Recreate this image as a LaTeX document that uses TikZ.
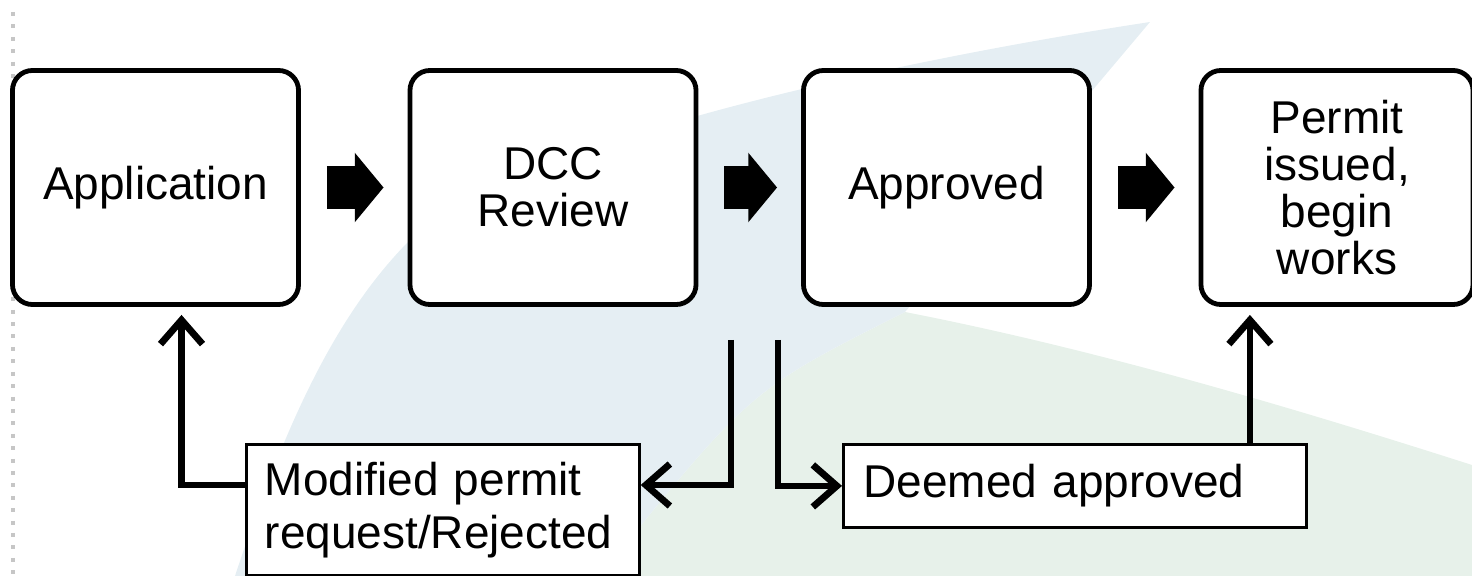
\documentclass[tikz,border=0pt]{standalone}
\usepackage{fontspec}
\setmainfont{Liberation Sans}
\usetikzlibrary{arrows.meta,calc}
\definecolor{bgblue}{RGB}{229,238,243}
\definecolor{bggreen}{RGB}{231,241,234}
\tikzset{
  stage/.style={draw, fill=white, rounded corners=0.5cm, line width=0.12cm,
    minimum width=7.15cm, minimum height=5.85cm, align=center, inner sep=0pt,
    font=\fontsize{32.7}{33.4}\selectfont},
  note/.style={draw, fill=white, line width=0.07cm, anchor=north west, align=left,
    inner ysep=0pt, font=\fontsize{32.7}{37.7}\selectfont},
  bigarrow/.style={line width=1.05cm, -{Triangle[length=0.72cm, width=1.7cm]},
    shorten <=0.65cm, shorten >=0.6cm},
  link/.style={line width=0.17cm, -{Straight Barb[length=0.6cm, width=1.05cm]}},
}
\begin{document}
\begin{tikzpicture}[x=0.025cm, y=-0.025cm]
\useasboundingbox (0,0) rectangle (1472,576);

% faint background
\fill[bggreen] (600,576) .. controls (750,390) .. (905,312) .. controls (1100,350) and (1300,410) .. (1472,465) -- (1472,576) -- cycle;
\fill[bgblue] (1150,22) .. controls (900,60) and (520,140) .. (410,240) .. controls (330,320) and (280,440) .. (235,576) -- (600,576) .. controls (750,390) .. (905,312) .. controls (1000,200) .. (1150,22) -- cycle;
\draw[gray!45, line width=0.1cm, dash pattern=on 0.1cm off 0.21cm] (13,12) -- (13,576);

% stages
\node[stage] (app) at (155.5,187.5) {Application};
\node[stage] (dcc) at (553,187.5) {DCC\\Review};
\node[stage] (ok) at (946.5,187.5) {Approved};
\node[stage, minimum width=6.8cm] (permit) at (1337,187.5) {Permit\\issued,\\begin\\works};

\draw[bigarrow] (app) -- (dcc);
\draw[bigarrow] (dcc) -- (ok);
\draw[bigarrow] (ok) -- (permit);

% outcomes
\node[note, text width=8.9cm, inner xsep=0.46cm, minimum height=3.275cm] (mod) at (245,443) {Modified permit\\request/Rejected};
\node[note, text width=10.575cm, inner xsep=0.5cm, minimum height=2.075cm] (deem) at (842,443) {Deemed approved};

\coordinate (dccout) at (731,340);
\coordinate (deemout) at (778,340);
\coordinate (modin) at ([yshift=-1.05cm]mod.north east);
\coordinate (modout) at ([yshift=-1.05cm]mod.north west);
\coordinate (appin) at ([xshift=0.65cm]app.south);
\coordinate (permitin) at ([xshift=-1.45cm]deem.north east);

\draw[link] (dccout) |- (modin);
\draw[link] (deemout) |- (deem.west);
\draw[link, shorten >=0.2cm] (modout) -| (appin);
\draw[link, shorten >=0.2cm] (permitin) -- (permitin |- permit.south);
\end{tikzpicture}
\end{document}
